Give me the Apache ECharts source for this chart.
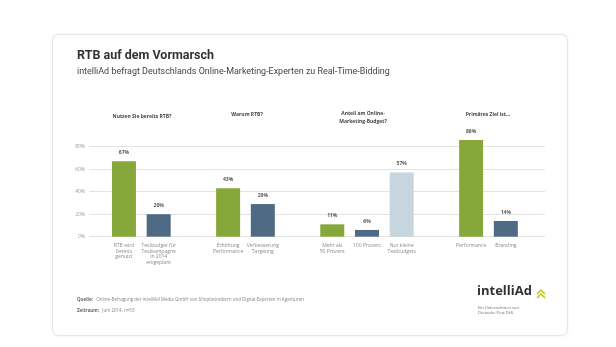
<!DOCTYPE html>
<html><head><meta charset="utf-8">
<script src="https://cdn.jsdelivr.net/npm/echarts@6/dist/echarts.min.js"></script>
<style>html,body{margin:0;padding:0;background:#fff;}#c{width:616px;height:347px;}</style>
</head><body><div id="c"></div>
<script>
var categories = ['RTB wird\nbereits\ngenutzt','Testbudget für\nTestkampagne\nin 2014\neingeplant','','Erhöhung\nPerformance','Verbesserung\nTargeting','','Mehr als\n50 Prozent','100 Prozent','Nur kleine\nTestbudgets','','Performance','Branding'];
var values = [67,20,null,43,29,null,11,6,57,null,86,14];
var colorKeys = ['g','b',null,'g','b',null,'g','b','l',null,'g','b'];
var yTicks = [0,20,40,60,80];
var panelTitles = ['Nutzen Sie bereits RTB?','Warum RTB?','Anteil am Online-\nMarketing-Budget?','Primäres Ziel ist...'];

(function(){
var palette = {g:'#86a83a', b:'#4f6a84', l:'#c7d5de'};
var F = 'Open Sans, Noto Sans, sans-serif';
var R = 'Roboto, Open Sans, sans-serif';
var data = values.map(function(v,i){ return v==null?null:{value:v,itemStyle:{color:palette[colorKeys[i]]}}; });

var chart = echarts.init(document.getElementById('c'));
var gTop = 146.7, gBottom = 347-236.7;
chart.setOption({
  animation:false,
  backgroundColor:'#fff',
  grid:[
    {left:89, right:71, top:gTop, bottom:gBottom},
    {left:106.6, width:416.6, top:gTop, bottom:gBottom}
  ],
  xAxis:[
    {gridIndex:0, type:'value', min:0, max:1, show:false},
    {gridIndex:1, type:'category', data:categories,
     axisLine:{show:false}, axisTick:{show:false},
     axisLabel:{interval:0, fontSize:5, lineHeight:5.6, color:'#8a8a8a', fontFamily:F, margin:6}}
  ],
  yAxis:[
    {gridIndex:0, type:'value', min:yTicks[0], max:yTicks[yTicks.length-1], interval:20,
     axisLine:{show:false}, axisTick:{show:false},
     axisLabel:{formatter:'{value}%', fontSize:5, color:'#9a9a9a', fontFamily:F, margin:4},
     splitLine:{lineStyle:{color:'#dcdcdc', width:0.8}}},
    {gridIndex:1, type:'value', min:0, max:80, show:false, splitLine:{show:false}}
  ],
  series:[{
    type:'bar', xAxisIndex:1, yAxisIndex:1, data:data, barWidth:24, clip:false,
    label:{show:true, position:'top', formatter:'{c}%', fontSize:5, fontWeight:'bold', color:'#555', fontFamily:F, distance:6}
  }],
  graphic:[
    {type:'rect', shape:{x:52.5,y:34.5,width:515,height:301,r:6}, style:{fill:'#fff', stroke:'#e6e6e6', lineWidth:1, shadowBlur:3, shadowColor:'rgba(0,0,0,0.06)'}, z:-10},
    {type:'text', left:77, top:49, style:{text:'RTB auf dem Vormarsch', font:'bold 12.5px '+R, fill:'#333'}},
    {type:'text', left:77, top:67.5, style:{text:'intelliAd befragt Deutschlands Online-Marketing-Experten zu Real-Time-Bidding', font:'8.95px '+R, fill:'#444'}},
    {type:'text', x:142, y:117, style:{text:panelTitles[0], font:'bold 5px '+F, fill:'#444', align:'center', verticalAlign:'middle'}},
    {type:'text', x:247, y:115, style:{text:panelTitles[1], font:'bold 5px '+F, fill:'#444', align:'center', verticalAlign:'middle'}},
    {type:'text', x:363, y:117.5, style:{text:panelTitles[2], font:'bold 5px '+F, fill:'#444', align:'center', verticalAlign:'middle', lineHeight:7.5}},
    {type:'text', x:488, y:115, style:{text:panelTitles[3], font:'bold 5px '+F, fill:'#444', align:'center', verticalAlign:'middle'}},
    {type:'text', left:77, top:293.5, style:{rich:{b:{font:'bold 4.5px '+F, fill:'#666'}, n:{font:'4.5px '+F, fill:'#888'}}, text:'{b|Quelle:} {n|Online-Befragung der intelliAd Media GmbH von Shopbetreibern und Digital-Experten in Agenturen}'}},
    {type:'text', left:77, top:304.5, style:{rich:{b:{font:'bold 4.5px '+F, fill:'#666'}, n:{font:'4.5px '+F, fill:'#888'}}, text:'{b|Zeitraum:} {n|Juni 2014, n=53}'}},
    {type:'text', left:477, top:285, style:{text:'intelliAd', font:'bold 13px '+F, fill:'#333'}},
    {type:'polyline', shape:{points:[[537,294],[541,290],[545,294]]}, style:{stroke:'#c9d23c', lineWidth:1.8, fill:null}},
    {type:'polyline', shape:{points:[[537,298],[541,294],[545,298]]}, style:{stroke:'#c9d23c', lineWidth:1.8, fill:null}},
    {type:'text', left:478, top:305, style:{text:'Ein Unternehmen von\nDeutsche Post DHL', font:'4px '+F, fill:'#666', lineHeight:5}}
  ]
});
})();
</script></body></html>
